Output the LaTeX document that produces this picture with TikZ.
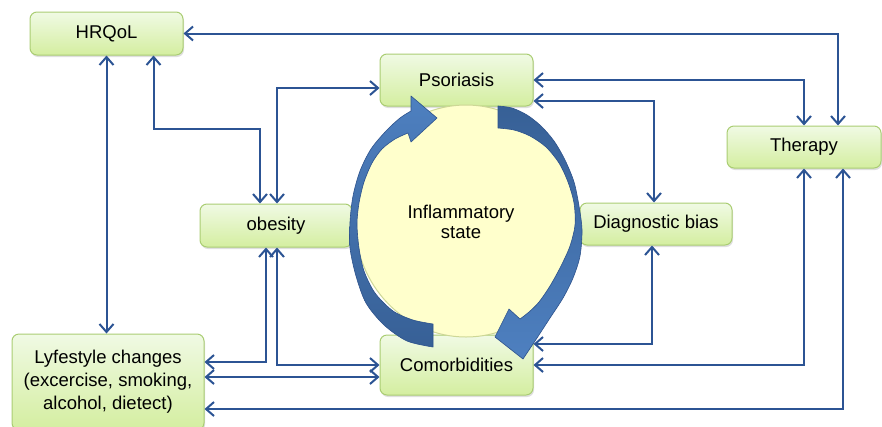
\documentclass[tikz,border=0pt]{standalone}
\usepackage{fontspec}
\setmainfont{Liberation Sans}
\usetikzlibrary{arrows.meta,shadows,shapes.geometric}
\definecolor{lineblue}{RGB}{44,84,148}
\definecolor{boxtop}{RGB}{240,250,228}
\definecolor{boxbot}{RGB}{212,238,160}
\definecolor{boxedge}{RGB}{170,205,115}
\definecolor{circfill}{RGB}{255,255,204}
\definecolor{circedge}{RGB}{205,215,150}
\definecolor{arclight}{RGB}{78,128,192}
\definecolor{arcdark}{RGB}{55,96,150}
\definecolor{arcedge}{RGB}{45,82,140}
\begin{document}
\begin{tikzpicture}[x=1pt,y=-1pt,
  box/.style={draw=boxedge, line width=1pt, rounded corners=7pt, top color=boxtop, bottom color=boxbot,
    drop shadow={opacity=0.25,shadow xshift=1pt,shadow yshift=-2pt},
    font=\fontsize{18.5}{23}\selectfont, align=center, inner sep=0pt},
  conn/.style={draw=lineblue, line width=2pt,
    arrows={Straight Barb[length=8pt,width=14pt]-Straight Barb[length=8pt,width=14pt]}},
  bluearc/.style={draw=arcedge, line width=0.6pt, line join=round}
]
\useasboundingbox (0,0) rectangle (882,426);

% boxes
\node[box, minimum width=153pt, minimum height=43pt] (hrqol) at (106.5,33.5) {HRQoL};
\node[box, minimum width=153pt, minimum height=52pt] (psor) at (456.5,80) {Psoriasis};
\node[box, minimum width=154pt, minimum height=42pt] (ther) at (804,147) {Therapy};
\node[box, minimum width=152pt, minimum height=43pt] (obes) at (276,225.5) {obesity};
\node[box, minimum width=152pt, minimum height=42pt] (diag) at (656,224) {Diagnostic bias};
\node[box, minimum width=192pt, minimum height=96pt] (life) at (108,382) {Lyfestyle changes\\(excercise, smoking,\\alcohol, dietect)};
\node[box, minimum width=153pt, minimum height=60pt] (comor) at (456.5,365) {Comorbidities};

% connectors
\draw[conn] (hrqol.east) -| ([xshift=34pt]ther.north);
\draw[conn] (psor.east) -| (ther.north);
\draw[conn] ([yshift=-21pt]psor.east) -| ([xshift=-2pt]diag.north);
\draw[conn] ([yshift=-8pt]psor.west) -| ([xshift=1pt]obes.north);
\draw[conn] ([xshift=47pt]hrqol.south) -- ++(0,73) -| ([xshift=-16pt]obes.north);
\draw[conn] (hrqol.south) -- (hrqol.south |- life.north);
\draw[conn] ([xshift=-10pt]obes.south) |- ([yshift=20pt]life.east);
\draw[conn] ([xshift=1pt]obes.south) |- (comor.west);
\coordinate (lc) at ([yshift=5pt]life.east);
\draw[conn] (lc) -- (lc -| comor.west);
\draw[conn] ([yshift=21pt]comor.east) -| ([xshift=-4pt]diag.south);
\draw[conn] (comor.east) -| (ther.south);
\draw[conn] ([yshift=-27pt]life.east) -| ([xshift=39pt]ther.south);

% circle
\node[ellipse, draw=circedge, line width=1pt, fill=circfill, minimum width=222pt, minimum height=232pt, inner sep=0pt] (circ) at (466,221) {};

% left curved arrow (bottom -> top)
\shade[bluearc, top color=arclight, bottom color=arcdark]
  (433,324) -- (433,347)
  -- plot[smooth] coordinates {(433,347) (407,341) (384,325) (366,303) (356,276) (350,248) (350,222) (353,196) (360,171) (371,149) (386,131) (400,118) (411,111)}
  -- (411,96) -- (437,118) -- (411,142) -- (408,133)
  -- plot[smooth] coordinates {(408,133) (395,139) (382,149) (372,163) (364,182) (359,203) (357,224) (359,248) (364,271) (375,293) (393,311) (413,320) (433,324)}
  -- cycle;

% right curved arrow (top -> bottom)
\shade[bluearc, top color=arcdark, bottom color=arclight]
  (498,128) -- (498,106)
  -- plot[smooth] coordinates {(498,106) (512,108) (527,115) (541,126) (554,141) (565,160) (574,182) (579,206) (582,230) (580,256) (573,278) (563,298) (550,318) (537,338)}
  -- (523,359) -- (495,337) -- (509,309) -- (520,319)
  -- plot[smooth] coordinates {(520,319) (529,312) (539,302) (550,286) (561,266) (570,246) (575,225) (574,203) (568,182) (559,163) (546,147) (530,136) (514,130) (498,128)}
  -- cycle;

\node[font=\fontsize{18.5}{20}\selectfont, align=center] (infl) at (461,222) {Inflammatory\\state};
\end{tikzpicture}
\end{document}
